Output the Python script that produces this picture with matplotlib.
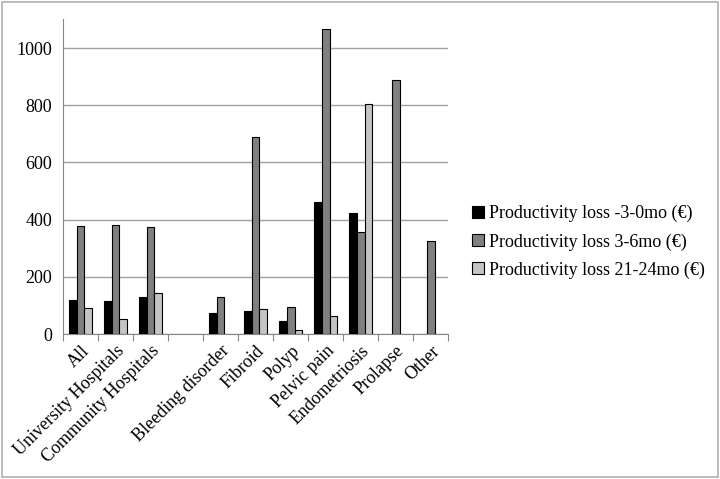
import numpy as np
import matplotlib
matplotlib.use('Agg')
import matplotlib.pyplot as plt
from matplotlib.patches import Rectangle

plt.rcParams['font.family'] = ['Liberation Serif', 'DejaVu Serif']

## data (blank slot between hospitals and diagnoses)
categories = ['All', 'University Hospitals', 'Community Hospitals', '',
              'Bleeding disorder', 'Fibroid', 'Polyp', 'Pelvic pain',
              'Endometriosis', 'Prolapse', 'Other']
loss_pre = [120, 114, 129, 0, 73, 82, 47, 462, 425, 0, 0]
loss_3_6 = [379, 381, 375, 0, 129, 689, 94, 1065, 358, 889, 326]
loss_21_24 = [91, 52, 143, 0, 0, 89, 15, 64, 803, 0, 0]
labels = ['Productivity loss -3-0mo (\u20ac)',
          'Productivity loss 3-6mo (\u20ac)',
          'Productivity loss 21-24mo (\u20ac)']
colors = ['#000000', '#808080', '#c4c4c4']

fig = plt.figure(figsize=(7.2, 4.79), dpi=100)
ax = fig.add_axes([0.0875, 0.3025, 0.535, 0.657])

x = np.arange(len(categories))
w = 1 / 4.5
for i, (vals, lab, col) in enumerate(zip([loss_pre, loss_3_6, loss_21_24], labels, colors)):
    v = np.array(vals, dtype=float)
    v[v == 0] = np.nan
    ax.bar(x + (i - 1) * w, v, w, color=col, edgecolor='black', linewidth=0.8, label=lab, zorder=3)

ax.set_xlim(-0.5, len(categories) - 0.5)
ax.set_ylim(0, 1100)
ax.set_yticks([0, 200, 400, 600, 800, 1000])
ax.yaxis.grid(True, color='#a0a0a0', linewidth=1.0, zorder=0)
ax.tick_params(axis='y', length=0, labelsize=13, pad=8)

ax.set_xticks(np.arange(len(categories) + 1) - 0.5, minor=False)
ax.set_xticklabels([])
ax.set_xticks(x, minor=True)
ax.set_xticklabels(categories, minor=True, rotation=45, ha='right', rotation_mode='anchor', fontsize=13)
ax.tick_params(axis='x', which='major', length=5, color='#888888', direction='out')
ax.tick_params(axis='x', which='minor', length=0, pad=6)

for s in ['top', 'right']:
    ax.spines[s].set_visible(False)
ax.spines['left'].set_color('#888888')
ax.spines['bottom'].set_color('#888888')

leg = fig.legend(loc='center left', bbox_to_anchor=(0.633, 0.495), frameon=False,
                 fontsize=13, handlelength=0.65, handleheight=0.65, handletextpad=0.3,
                 labelspacing=0.6)

fig.patches.append(Rectangle((0.003, 0.004), 0.994, 0.992, transform=fig.transFigure,
                             fill=False, edgecolor='#b0b0b0', linewidth=1.2))

plt.savefig('out.png', dpi=100)
